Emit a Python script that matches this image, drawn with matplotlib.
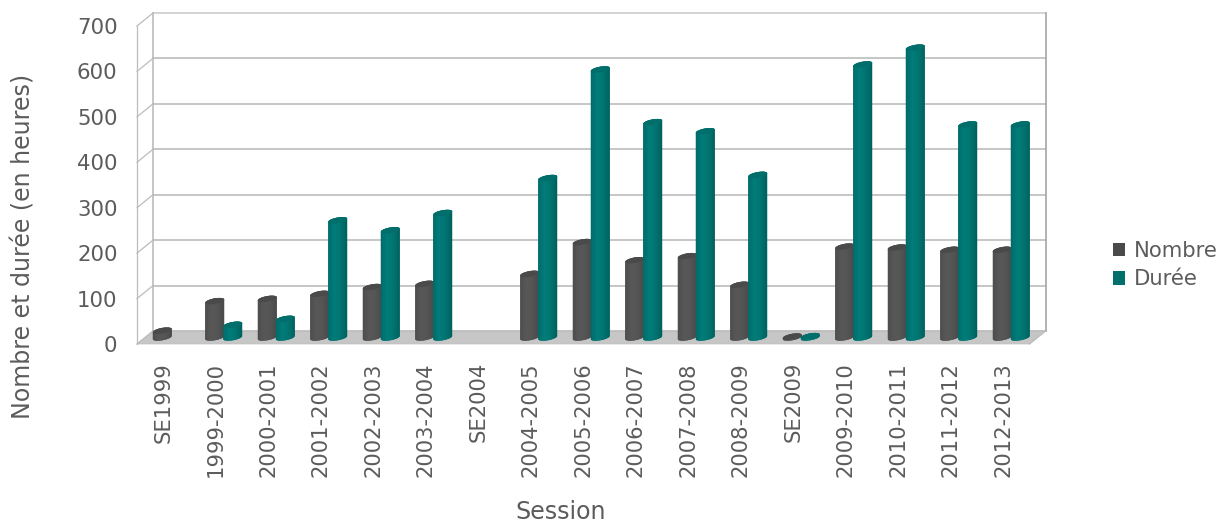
import numpy as np
import matplotlib
matplotlib.use("Agg")
import matplotlib.pyplot as plt
from matplotlib.colors import LinearSegmentedColormap
from matplotlib.patches import Patch, Polygon

sessions = ["SE1999", "1999-2000", "2000-2001", "2001-2002", "2002-2003", "2003-2004",
            "SE2004", "2004-2005", "2005-2006", "2006-2007", "2007-2008", "2008-2009",
            "SE2009", "2009-2010", "2010-2011", "2011-2012", "2012-2013"]
nombre = [15, 80, 85, 96, 111, 118, np.nan, 140, 210, 170, 179, 116, 2, 200, 198, 193, 193]
duree = [np.nan, 28, 41, 258, 236, 274, np.nan, 351, 590, 474, 454, 358, 3, 601, 638, 469, 469]
yticks = [0, 100, 200, 300, 400, 500, 600, 700]

W, H = 1220, 522
fig = plt.figure(figsize=(W / 100, H / 100), dpi=100)
# front plane of the fake 3d box
left, right, bottom, top = 137, 1029.5, 344, 26
ax = fig.add_axes([left / W, 1 - bottom / H, (right - left) / W, (bottom - top) / H])
ax.patch.set_visible(False)
for s in ax.spines.values():
    s.set_visible(False)

px_x = (right - left) / len(sessions)
px_y = (bottom - top) / 700
DX = 16 / px_x
DY = 13 / px_y
n = len(sessions)
grid_col = "#bcbcbc"

# floor
ax.add_patch(Polygon([(0, 0), (n, 0), (n + DX, DY), (DX, DY)], closed=True,
                     fc="#c6c6c6", ec="#c0c0c0", lw=0.5, clip_on=False, zorder=1))
# walls
for v in yticks:
    col = "#cccccc" if v == 700 else grid_col
    ax.plot([DX, n + DX], [v + DY, v + DY], color=col, lw=1.2, clip_on=False, zorder=2)
    ax.plot([0, DX], [v, v + DY], color=grid_col, lw=0.9, clip_on=False, zorder=2)
ax.plot([0, 0], [0, 700], color=grid_col, lw=0.9, clip_on=False, zorder=2)
ax.plot([DX, DX], [DY, 700 + DY], color=grid_col, lw=1.2, clip_on=False, zorder=2)
ax.plot([n + DX, n + DX], [DY, 700 + DY], color="#acacac", lw=1.3, clip_on=False, zorder=2)
ax.plot([n, n + DX], [0, DY], color=grid_col, lw=0.9, clip_on=False, zorder=2)

grey_cm = LinearSegmentedColormap.from_list("g", ["#4e4e4e", "#585858", "#555555", "#4a4a4a"])
teal_cm = LinearSegmentedColormap.from_list("t", ["#006c6a", "#007d7a", "#007470", "#00625f"])
bar_w = 19 / px_x
semi = 2.8 / px_y
tilt = 1.6 / px_y
z = 3


def cylinder(x0, value, cmap, cap, z):
    base = DY / 2
    cx = x0 + bar_w / 2
    t = np.linspace(np.pi, 2 * np.pi, 30)
    bx = cx + bar_w / 2 * np.cos(t)
    by = base + semi * np.sin(t) + tilt * np.cos(t)
    tt = t[::-1]
    tx = cx + bar_w / 2 * np.cos(tt)
    ty = base + value - semi * np.sin(tt) + tilt * np.cos(tt)
    body = Polygon(np.column_stack([np.r_[bx, tx], np.r_[by, ty]]), closed=True,
                   fc=cap, ec="none", zorder=z)
    ax.add_patch(body)
    im = ax.imshow(np.linspace(0, 1, 40)[None, :], cmap=cmap, aspect="auto", zorder=z + 0.1,
                   extent=(x0, x0 + bar_w, base - 40, base + value + 40), interpolation="bilinear")
    im.set_clip_path(body)
    a = np.linspace(0, 2 * np.pi, 60)
    capx = cx + bar_w / 2 * np.cos(a)
    capy = base + value + semi * np.sin(a) + tilt * np.cos(a)
    ax.add_patch(Polygon(np.column_stack([capx, capy]), closed=True, fc=cap, ec="none", zorder=z + 0.2))


pair = bar_w * 2 - 1 / px_x
for i in range(n):
    x_start = i + DX / 2 + (1 - pair) / 2
    if not np.isnan(nombre[i]):
        cylinder(x_start, nombre[i], grey_cm, "#4a4a4a", z)
    z += 1
    if not np.isnan(duree[i]):
        cylinder(x_start + bar_w - 1 / px_x, duree[i], teal_cm, "#006e6a", z)
    z += 1

ax.set_xlim(0, n)
ax.set_ylim(0, 700)

txt = "#5c5c5c"
ax.set_yticks(yticks)
ax.set_yticklabels([str(v) for v in yticks], fontsize=15.3, color=txt)
ax.set_xticks(np.arange(n) + 0.5)
ax.set_xticklabels(sessions, rotation=90, fontsize=15.2, color=txt)
ax.tick_params(axis="both", length=0)
ax.tick_params(axis="y", pad=14)
ax.tick_params(axis="x", pad=13)

fig.text(561 / W, 1 - 512 / H, "Session", fontsize=17.1, color=txt, ha="center", va="center")
fig.text(24 / W, 1 - 246.5 / H, "Nombre et durée (en heures)", fontsize=17.1, color=txt,
         rotation=90, ha="center", va="center")

handles = [Patch(fc="#4a4a4a", ec="none", label="Nombre"), Patch(fc="#00706c", ec="none", label="Durée")]
fig.legend(handles=handles, loc="center left", bbox_to_anchor=(1109 / W, 1 - 265 / H), frameon=False,
           fontsize=15.2, labelcolor=txt, handlelength=0.58, handleheight=0.58, handletextpad=0.38,
           labelspacing=0.42, borderpad=0.2, borderaxespad=0)

fig.savefig("out.png", dpi=100)
